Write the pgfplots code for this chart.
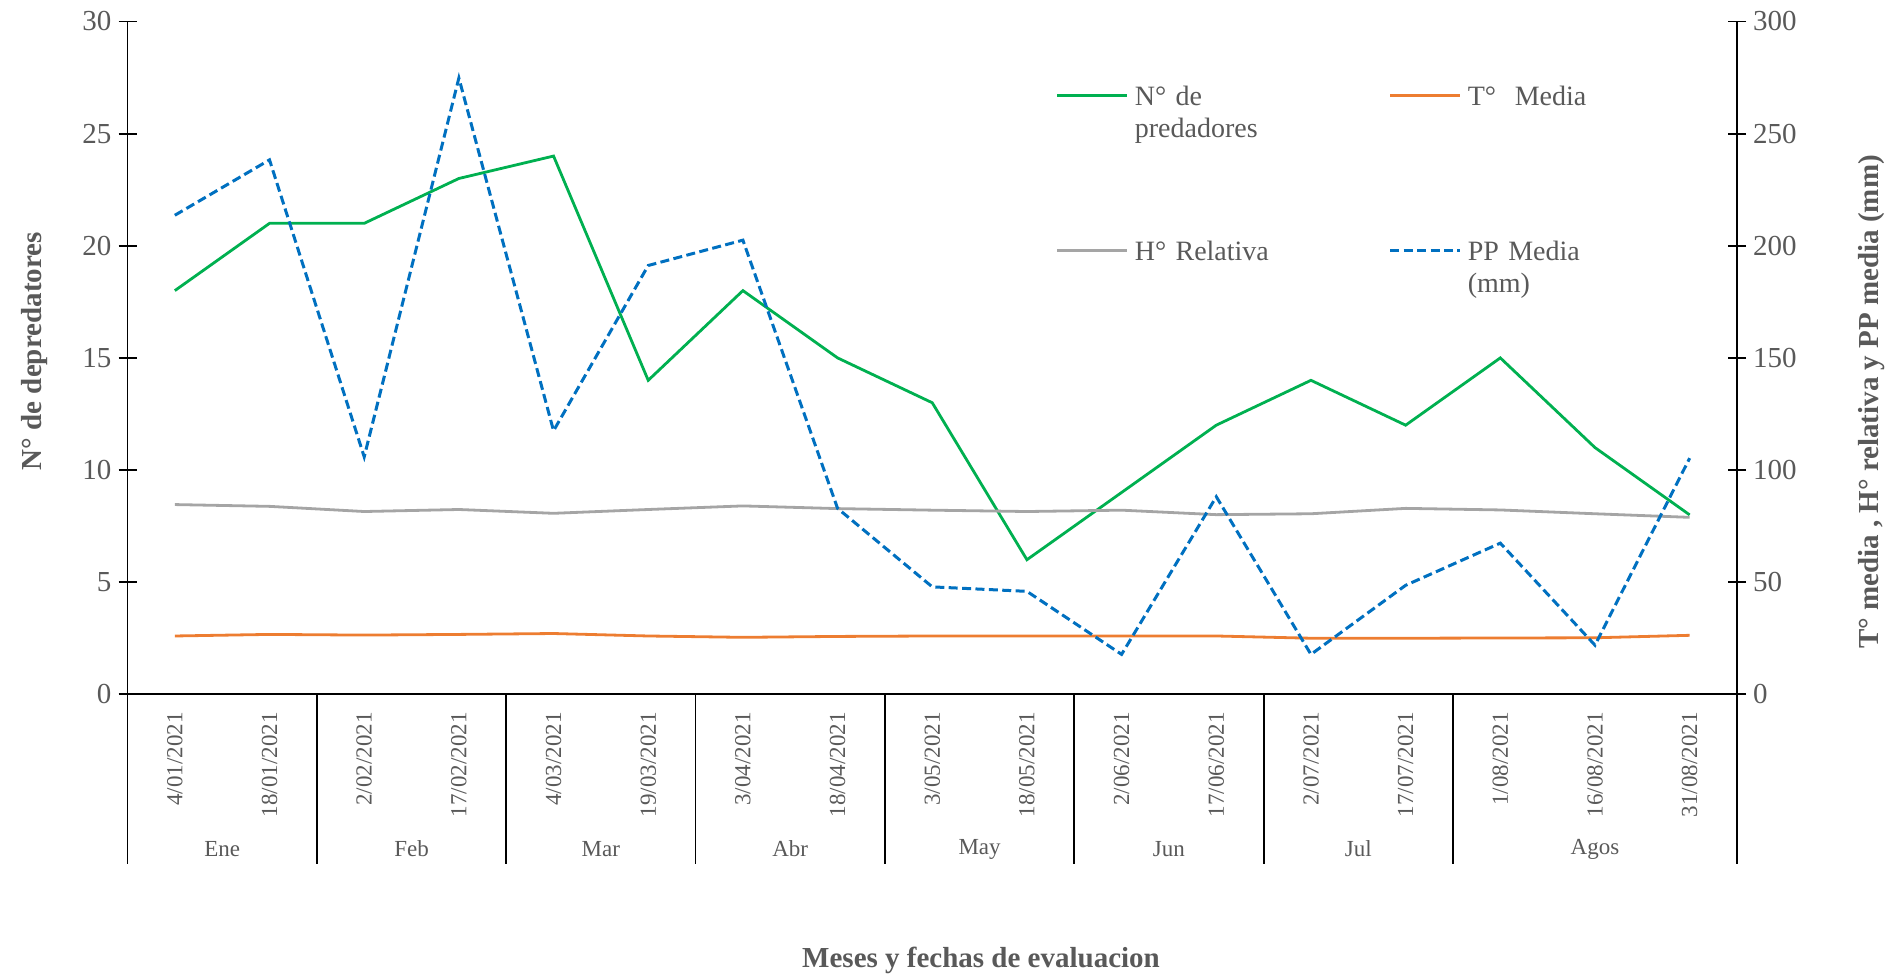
\documentclass[border=0pt]{standalone}
\usepackage{pgfplots}
\usepackage{pgfplotstable}
\pgfplotsset{compat=1.18}
\usepackage{fontspec}
\setmainfont{Liberation Serif}
\definecolor{cgreen}{HTML}{00B050}
\definecolor{corange}{HTML}{ED7D31}
\definecolor{cgray}{HTML}{A5A5A5}
\definecolor{cblue}{HTML}{0070C0}
\definecolor{ctext}{HTML}{595959}

\pgfplotstableread{
x pred temp hum pp
0.5 18 26.0 84.6 213.6
1.5 21 26.7 83.8 238.3
2.5 21 26.4 81.5 105.9
3.5 23 26.7 82.4 274.8
4.5 24 27.1 80.7 117.5
5.5 14 26.0 82.4 191.2
6.5 18 25.4 84.0 202.5
7.5 15 25.8 82.8 82.9
8.5 13 26.0 82.1 47.9
9.5 6 26.0 81.5 45.9
10.5 9 26.0 82.1 17.8
11.5 12 26.0 80.1 88.1
12.5 14 25.0 80.5 17.8
13.5 12 25.0 82.9 48.6
14.5 15 25.1 82.2 67.4
15.5 11 25.2 80.5 21.9
16.5 8 26.3 78.9 105.3
}\datatable

\pgfplotsset{
  base/.style={
    at={(63.75pt,142.35pt)}, anchor=south west,
    scale only axis, width=804.75pt, height=336.4pt,
    xmin=0, xmax=17,
    /pgf/number format/assume math mode=true,
    tick label style={font=\fontsize{14.5}{17}\selectfont, text=ctext},
    label style={font=\bfseries\fontsize{14.5}{17}\selectfont, text=ctext},
    ytick align=center, major tick length=9pt,
    ytick style={black, line width=0.9pt},
    clip=false,
  },
}

\begin{document}
\begin{tikzpicture}
\useasboundingbox (0,0) rectangle (949.5pt,489.5pt);
\begin{axis}[base,
  ymin=0, ymax=30, ytick={0,5,...,30},
  axis y line*=left, axis x line*=bottom,
  axis line style={-, black, line width=0.9pt},
  xtick={0.5,1.5,...,16.5},
  xticklabels={4/01/2021,18/01/2021,2/02/2021,17/02/2021,4/03/2021,19/03/2021,3/04/2021,18/04/2021,3/05/2021,18/05/2021,2/06/2021,17/06/2021,2/07/2021,17/07/2021,1/08/2021,16/08/2021,31/08/2021},
  xtick align=inside,
  xtick style={draw=none},
  xticklabel style={rotate=90, anchor=east, font=\fontsize{11.5}{13}\selectfont, inner sep=0pt, text=ctext},
  xticklabel shift=8.8pt,
  extra x ticks={0,2,4,6,8,10,12,14,17},
  extra x tick labels={},
  extra x tick style={xtick align=outside, major tick length=84.65pt, xtick style={draw=black, line width=0.9pt}},
  ylabel={N° de depredatores},
  ylabel style={at={(axis description cs:-0.058,0.510)}, anchor=center},
  xlabel={Meses y fechas de evaluacion},
  xlabel style={at={(axis description cs:0.5303,-0.3949)}, anchor=center},
]
\addplot[cgreen, line width=1.4pt] table[x=x, y=pred]{\datatable};
\node[font=\fontsize{11.5}{13}\selectfont, text=ctext] at (axis cs:1,0) [yshift=-77.35pt] {Ene};
\node[font=\fontsize{11.5}{13}\selectfont, text=ctext] at (axis cs:3,0) [yshift=-77.35pt] {Feb};
\node[font=\fontsize{11.5}{13}\selectfont, text=ctext] at (axis cs:5,0) [yshift=-77.35pt] {Mar};
\node[font=\fontsize{11.5}{13}\selectfont, text=ctext] at (axis cs:7,0) [yshift=-77.35pt] {Abr};
\node[font=\fontsize{11.5}{13}\selectfont, text=ctext] at (axis cs:9,0) [yshift=-77.35pt] {May};
\node[font=\fontsize{11.5}{13}\selectfont, text=ctext] at (axis cs:11,0) [yshift=-77.35pt] {Jun};
\node[font=\fontsize{11.5}{13}\selectfont, text=ctext] at (axis cs:13,0) [yshift=-77.35pt] {Jul};
\node[font=\fontsize{11.5}{13}\selectfont, text=ctext] at (axis cs:15.5,0) [yshift=-77.35pt] {Agos};
\end{axis}
\begin{axis}[base,
  ymin=0, ymax=300, ytick={0,50,...,300},
  axis y line*=right, axis x line=none,
  axis line style={-, black, line width=0.9pt},
  xtick=\empty,
  ylabel={T° media , H° relativa y PP media (mm)},
  ylabel style={at={(axis description cs:1.0835,0.4345)}, anchor=center},
  legend columns=2,
  legend image code/.code={\draw[#1] (0pt,4.9pt) -- (35pt,4.9pt);},
  legend style={draw=none, fill=none, at={(axis description cs:0.5769,0.9046)}, anchor=north west,
    inner sep=0pt, outer sep=0pt, row sep=66.4pt, column sep=0pt,
    font=\fontsize{14}{16.2}\selectfont, text=ctext,
    cells={anchor=base west},
    nodes={text width=124pt, align=left, inner xsep=3pt, inner ysep=0pt}},
]
\addlegendimage{cgreen, line width=1.4pt}
\addlegendentry{N° de\\predadores}
\addplot[corange, line width=1.4pt] table[x=x, y=temp]{\datatable};
\addlegendentry{T°\ \ Media}
\addplot[cgray, line width=1.4pt] table[x=x, y=hum]{\datatable};
\addlegendentry{H° Relativa}
\addplot[cblue, line width=1.5pt, dash pattern=on 4.5pt off 2.2pt] table[x=x, y=pp]{\datatable};
\addlegendentry{PP Media\\(mm)}
\end{axis}
\end{tikzpicture}
\end{document}
